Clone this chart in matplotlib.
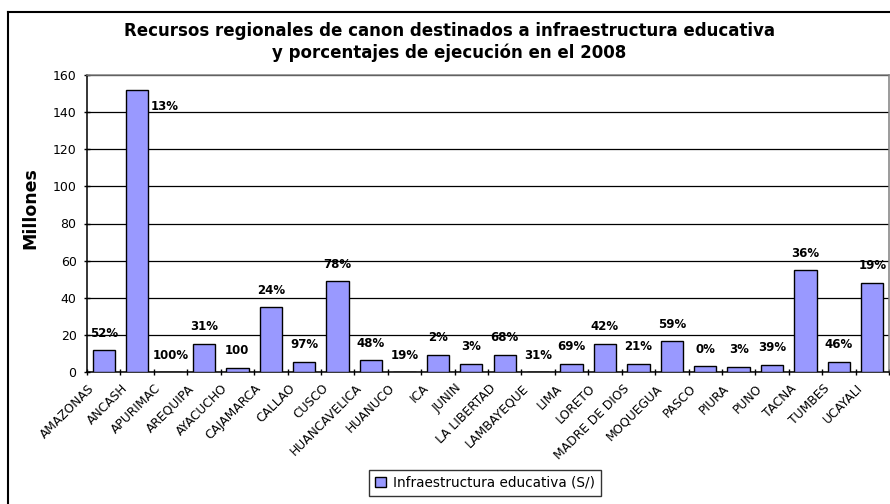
import matplotlib
matplotlib.use("Agg")
import matplotlib.pyplot as plt
from matplotlib.lines import Line2D
from matplotlib.transforms import ScaledTranslation

plt.rcParams['font.family'] = ['DejaVu Sans']

regions = ["AMAZONAS", "ANCASH", "APURIMAC", "AREQUIPA", "AYACUCHO", "CAJAMARCA",
           "CALLAO", "CUSCO", "HUANCAVELICA", "HUANUCO", "ICA", "JUNIN",
           "LA LIBERTAD", "LAMBAYEQUE", "LIMA", "LORETO", "MADRE DE DIOS", "MOQUEGUA",
           "PASCO", "PIURA", "PUNO", "TACNA", "TUMBES", "UCAYALI"]
values = [11.7, 152.0, 0.0, 15.3, 2.4, 35.0,
          5.6, 48.9, 6.5, 0.0, 9.4, 4.5,
          9.4, 0.0, 4.5, 15.3, 4.5, 16.5,
          3.4, 2.9, 4.0, 54.8, 5.6, 48.2]
pct_labels = ["52%", "13%", "100%", "31%", "100", "24%",
              "97%", "78%", "48%", "19%", "2%", "3%",
              "68%", "31%", "69%", "42%", "21%", "59%",
              "0%", "3%", "39%", "36%", "46%", "19%"]
yticks = [0, 20, 40, 60, 80, 100, 120, 140, 160]

W, H = 890, 504
fig = plt.figure(figsize=(W / 100, H / 100), dpi=100)
ax = fig.add_axes([87 / W, 1 - 372 / H, 802 / W, 297 / H])

x = list(range(len(regions)))
bw = 0.67
ax.bar(x, values, width=bw, color="#9999FF", edgecolor="black", linewidth=1.0,
       label="Infraestructura educativa (S/)", zorder=3)

ax.set_xlim(-0.5, len(regions) - 0.5)
ax.set_ylim(0, 160)
ax.set_yticks(yticks)
ax.set_yticklabels([str(t) for t in yticks], fontsize=9)
ax.yaxis.grid(True, color="black", linewidth=0.9, zorder=0)
ax.set_axisbelow(True)

# x ticks at category boundaries, labels at centers
ax.set_xticks([i - 0.5 for i in range(len(regions) + 1)])
ax.set_xticklabels([])
ax.set_xticks(x, minor=True)
ax.set_xticklabels(regions, minor=True, rotation=45, ha="right", va="top",
                   rotation_mode="anchor", fontsize=8.8)
ax.tick_params(axis="x", which="minor", length=0, pad=7)
ax.tick_params(axis="x", which="major", length=4, direction="inout", width=1)
ax.tick_params(axis="y", length=5, direction="inout", width=1, pad=5)
shift = ScaledTranslation(-16 / 100, 0, fig.dpi_scale_trans)
for lbl in ax.get_xticklabels(minor=True):
    lbl.set_transform(lbl.get_transform() + shift)

for s in ["left", "bottom"]:
    ax.spines[s].set_color("black")
    ax.spines[s].set_linewidth(1.1)
for s in ["top", "right"]:
    ax.spines[s].set_color("#808080")
    ax.spines[s].set_linewidth(1.1)

ax.set_ylabel("Millones", fontsize=12.5, fontweight="bold")
ax.yaxis.set_label_coords((39 - 87) / 802, (372 - 208) / 297)

# data labels
for xi, v, lab in zip(x, values, pct_labels):
    if v + 9 > 160:
        ax.annotate(lab, (xi + bw / 2, v), xytext=(2, -12), textcoords="offset points",
                    ha="left", va="center", fontsize=8.5, fontweight="bold")
    else:
        ax.annotate(lab, (xi, v), xytext=(0, 12), textcoords="offset points",
                    ha="center", va="center", fontsize=8.5, fontweight="bold")

fig.text(0.505, 1 - 31 / H, "Recursos regionales de canon destinados a infraestructura educativa",
         ha="center", va="center", fontsize=12, fontweight="bold")
fig.text(0.505, 1 - 53 / H, "y porcentajes de ejecución en el 2008",
         ha="center", va="center", fontsize=12, fontweight="bold")

leg = fig.legend(loc="center", bbox_to_anchor=(485 / W, 1 - 483 / H), fontsize=9.8,
                 frameon=True, fancybox=False, handlelength=0.8, handleheight=0.8,
                 borderpad=0.45, handletextpad=0.5)
leg.get_frame().set_edgecolor("black")
leg.get_frame().set_linewidth(1.0)

# outer chart frame (cut off on right and bottom)
fig.add_artist(Line2D([8 / W, 8 / W], [0, 1 - 12 / H], color="black", linewidth=1.5,
                      transform=fig.transFigure))
fig.add_artist(Line2D([8 / W, 1], [1 - 12 / H, 1 - 12 / H], color="black", linewidth=1.5,
                      transform=fig.transFigure))

fig.savefig("out.png", dpi=100)
